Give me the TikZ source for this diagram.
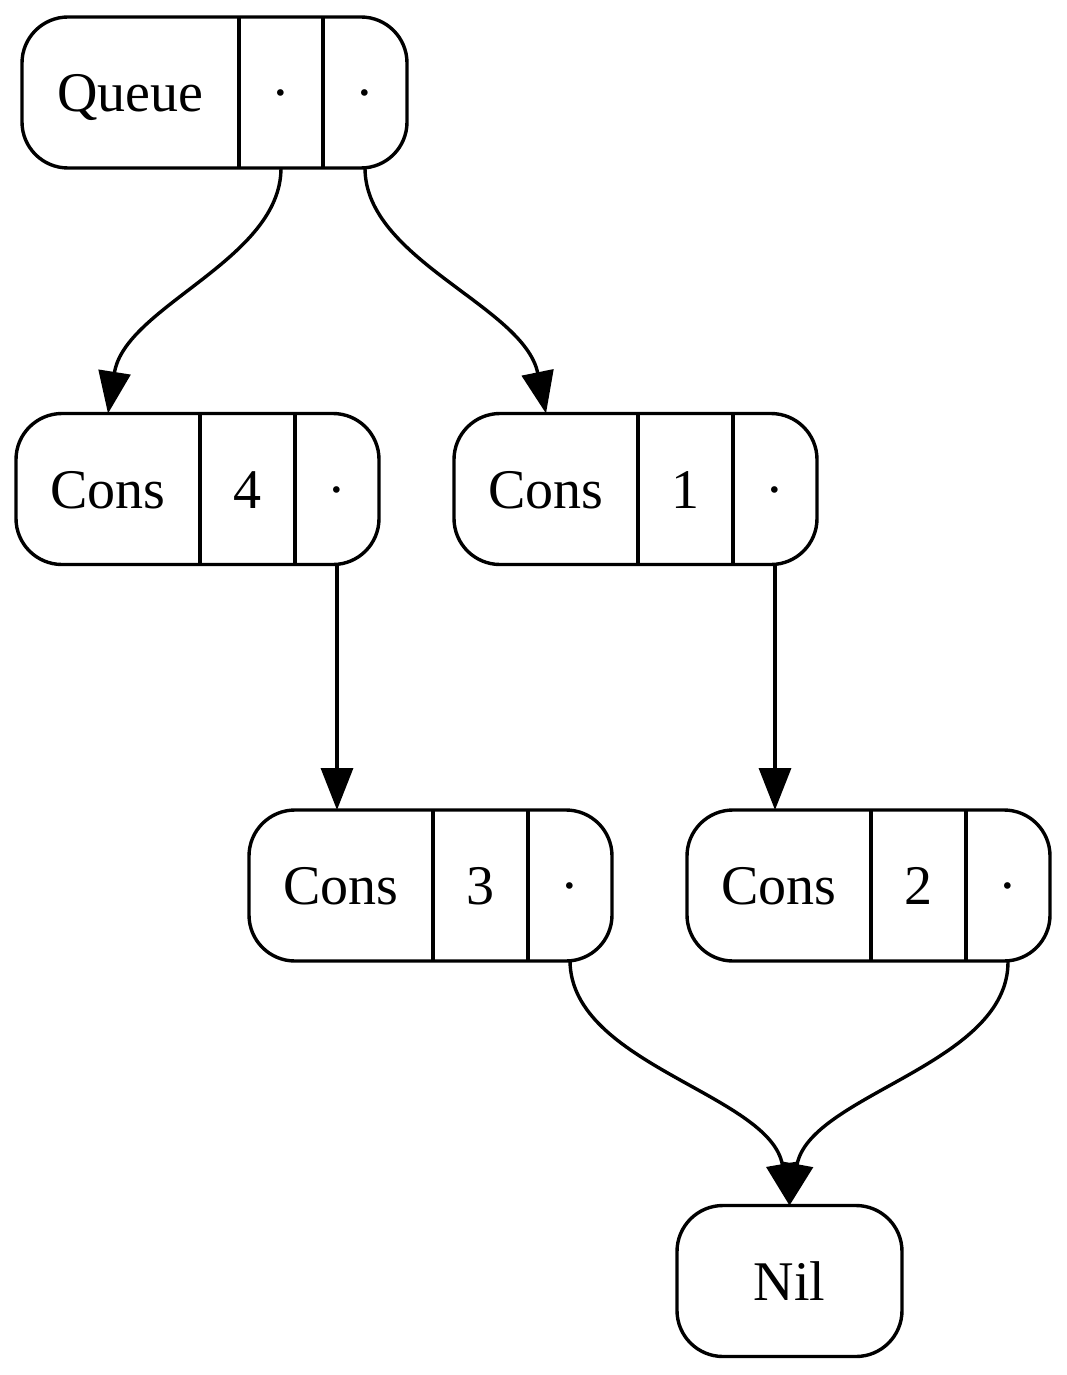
\documentclass[tikz,border=0pt]{standalone}
\usepackage{fontspec}
\setmainfont{Liberation Serif}
\usetikzlibrary{arrows.meta}
\begin{document}
\begin{tikzpicture}[x=1pt,y=-1pt,
  rec/.style={draw, line width=3.4pt, rounded corners=46pt, inner sep=0pt, minimum height=151pt},
  fld/.style={inner sep=0pt, outer sep=0pt, minimum height=151pt, text height=38pt, text depth=0pt,
    font=\fontsize{56}{60}\selectfont},
  divider/.style={line width=3.4pt},
  link/.style={line width=3.4pt, -{Triangle[length=42pt,width=32pt]}}]
\useasboundingbox (0,0) rectangle (1067,1375);

% Queue record
\node[rec, minimum width=385pt] (q) at (214.5,92.5) {};
\node[fld, minimum width=217pt] (q1) at (130.5,92.5) {Queue};
\node[fld, minimum width=84pt] (q2) at (281,92.5) {·};
\node[fld, minimum width=84pt] (q3) at (365,92.5) {·};
\draw[divider] (q1.north east) -- (q1.south east);
\draw[divider] (q2.north east) -- (q2.south east);

% Cons 4
\node[rec, minimum width=363pt] (c4) at (197.5,489) {};
\node[fld, minimum width=184pt] (c4a) at (108,489) {Cons};
\node[fld, minimum width=95pt] (c4b) at (247.5,489) {4};
\node[fld, minimum width=84pt] (c4c) at (337,489) {·};
\draw[divider] (c4a.north east) -- (c4a.south east);
\draw[divider] (c4b.north east) -- (c4b.south east);

% Cons 1
\node[rec, minimum width=363pt] (c1) at (635.5,489) {};
\node[fld, minimum width=184pt] (c1a) at (546,489) {Cons};
\node[fld, minimum width=95pt] (c1b) at (685.5,489) {1};
\node[fld, minimum width=84pt] (c1c) at (775,489) {·};
\draw[divider] (c1a.north east) -- (c1a.south east);
\draw[divider] (c1b.north east) -- (c1b.south east);

% Cons 3
\node[rec, minimum width=363pt] (c3) at (430.5,885.5) {};
\node[fld, minimum width=184pt] (c3a) at (341,885.5) {Cons};
\node[fld, minimum width=95pt] (c3b) at (480.5,885.5) {3};
\node[fld, minimum width=84pt] (c3c) at (570,885.5) {·};
\draw[divider] (c3a.north east) -- (c3a.south east);
\draw[divider] (c3b.north east) -- (c3b.south east);

% Cons 2
\node[rec, minimum width=363pt] (c2) at (868.5,885.5) {};
\node[fld, minimum width=184pt] (c2a) at (779,885.5) {Cons};
\node[fld, minimum width=95pt] (c2b) at (918.5,885.5) {2};
\node[fld, minimum width=84pt] (c2c) at (1008,885.5) {·};
\draw[divider] (c2a.north east) -- (c2a.south east);
\draw[divider] (c2b.north east) -- (c2b.south east);

% Nil
\node[rec, fld, draw, minimum width=225pt] (nil) at (789.5,1281) {Nil};

% pointers
\draw[link] (q2.south) .. controls (281,260) and (125,306) .. (c4a.north);
\draw[link] (q3.south) .. controls (365,260) and (524,306) .. (c1a.north);
\draw[link] (c4c.south) -- (c4c.south |- c3a.north);
\draw[link] (c1c.south) -- (c1c.south |- c2a.north);
\draw[link] (c3c.south) .. controls (571,1065) and (770,1094) .. (nil.north);
\draw[link] (c2c.south) .. controls (1009,1065) and (810,1094) .. (nil.north);
\end{tikzpicture}
\end{document}
